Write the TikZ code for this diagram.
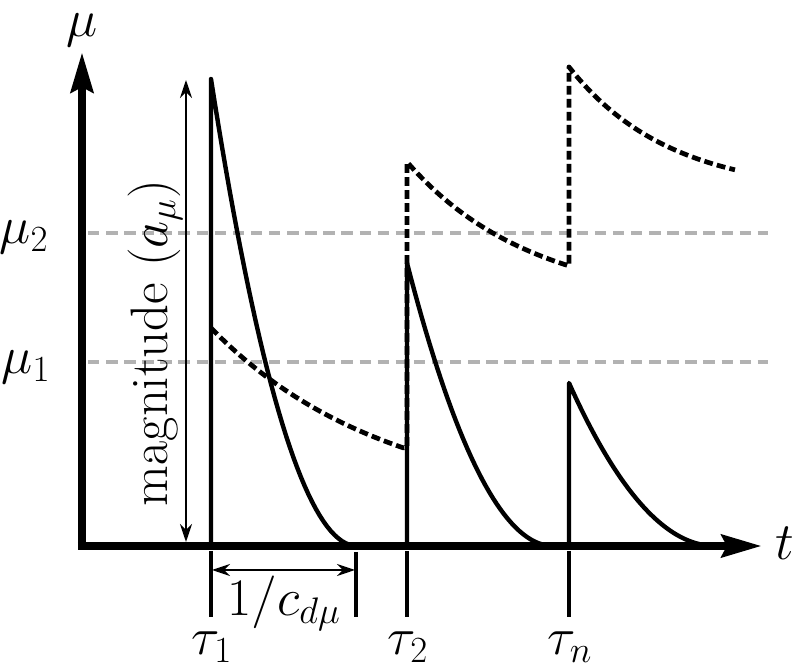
\documentclass[tikz,border=0pt]{standalone}
\usepackage{fix-cm}
\usetikzlibrary{arrows.meta}

\begin{document}
\begin{tikzpicture}[line join=round,font=\fontsize{30}{36}\selectfont,
  >={Stealth[length=3.6mm,width=2.4mm]},
  axisline/.style={line width=4.8pt,-{Stealth[length=8mm,width=4.4mm,inset=1mm]}},
  refline/.style={black!30,line width=2.8pt,dash pattern=on 6.5pt off 3.8pt},
  pulse/.style={line width=2.5pt},
  total/.style={line width=2.7pt,dash pattern=on 5pt off 2.4pt},
  tauline/.style={line width=1.9pt},
  dim/.style={line width=1.1pt,<->}]
  \useasboundingbox (-1.64,-2.44) rectangle (14.28,10.92);
  % niveles de referencia
  \draw[refline] (0.12,6.26) -- (13.72,6.26);
  \draw[refline] (0.12,3.68) -- (13.72,3.68);
  \node (mu2) at (-1.16,6.18) {$\mu_2$};
  \node (mu1) at (-1.12,3.58) {$\mu_1$};
  % suma acumulada (discontinua)
  \draw[total] plot[domain=0:3.84,samples=40] ({2.58+\x},{0.76+3.6*exp(-0.285*\x)})
    -- (6.5,1.97) -- (6.5,7.68)
    -- plot[domain=0:3.24,samples=40] ({6.5+\x},{4.82+2.86*exp(-0.4*\x)})
    -- (9.74,9.58)
    -- plot[domain=0:3.32,samples=40] ({9.74+\x},{7.04+2.54*exp(-0.5*\x)});
  % pulsos
  \foreach \p/\a/\l in {2.58/9.34/1,6.5/5.66/2,9.74/3.26/n}{
    \draw[pulse] (\p,0) -- (\p,\a) -- plot[domain=0:2.92,samples=40] ({\p+\x},{\a*(1-\x/2.92)^2});
    \draw[tauline] (\p,-0.1) -- (\p,-1.42);
    \node[inner sep=1pt] (tau\l) at (\p+0.02,-2.02) {$\tau_\l$};
  }
  % ancho 1/c
  \draw[tauline] (5.48,-0.12) -- (5.48,-1.42);
  \coordinate (c0) at (2.6,-0.48);
  \coordinate (c1) at (5.46,-0.48);
  \draw[dim] (c0) -- (c1);
  \node (cinv) at (4.04,-1.14) {$1/c_{d\mu}$};
  % magnitud
  \coordinate (m0) at (2.08,0.08);
  \coordinate (m1) at (2.08,9.32);
  \draw[dim] (m0) -- (m1);
  \node[rotate=90] (mag) at (1.46,4.06) {magnitude $(a_\mu)$};
  % ejes
  \draw[axisline] (-0.08,0) -- (13.6,0);
  \draw[axisline] (0,-0.08) -- (0,9.88);
  \node[inner sep=1pt] (t) at (14.06,0.06) {$t$};
  \node[inner sep=1pt] (mu) at (0,10.31) {$\mu$};
\end{tikzpicture}
\end{document}
